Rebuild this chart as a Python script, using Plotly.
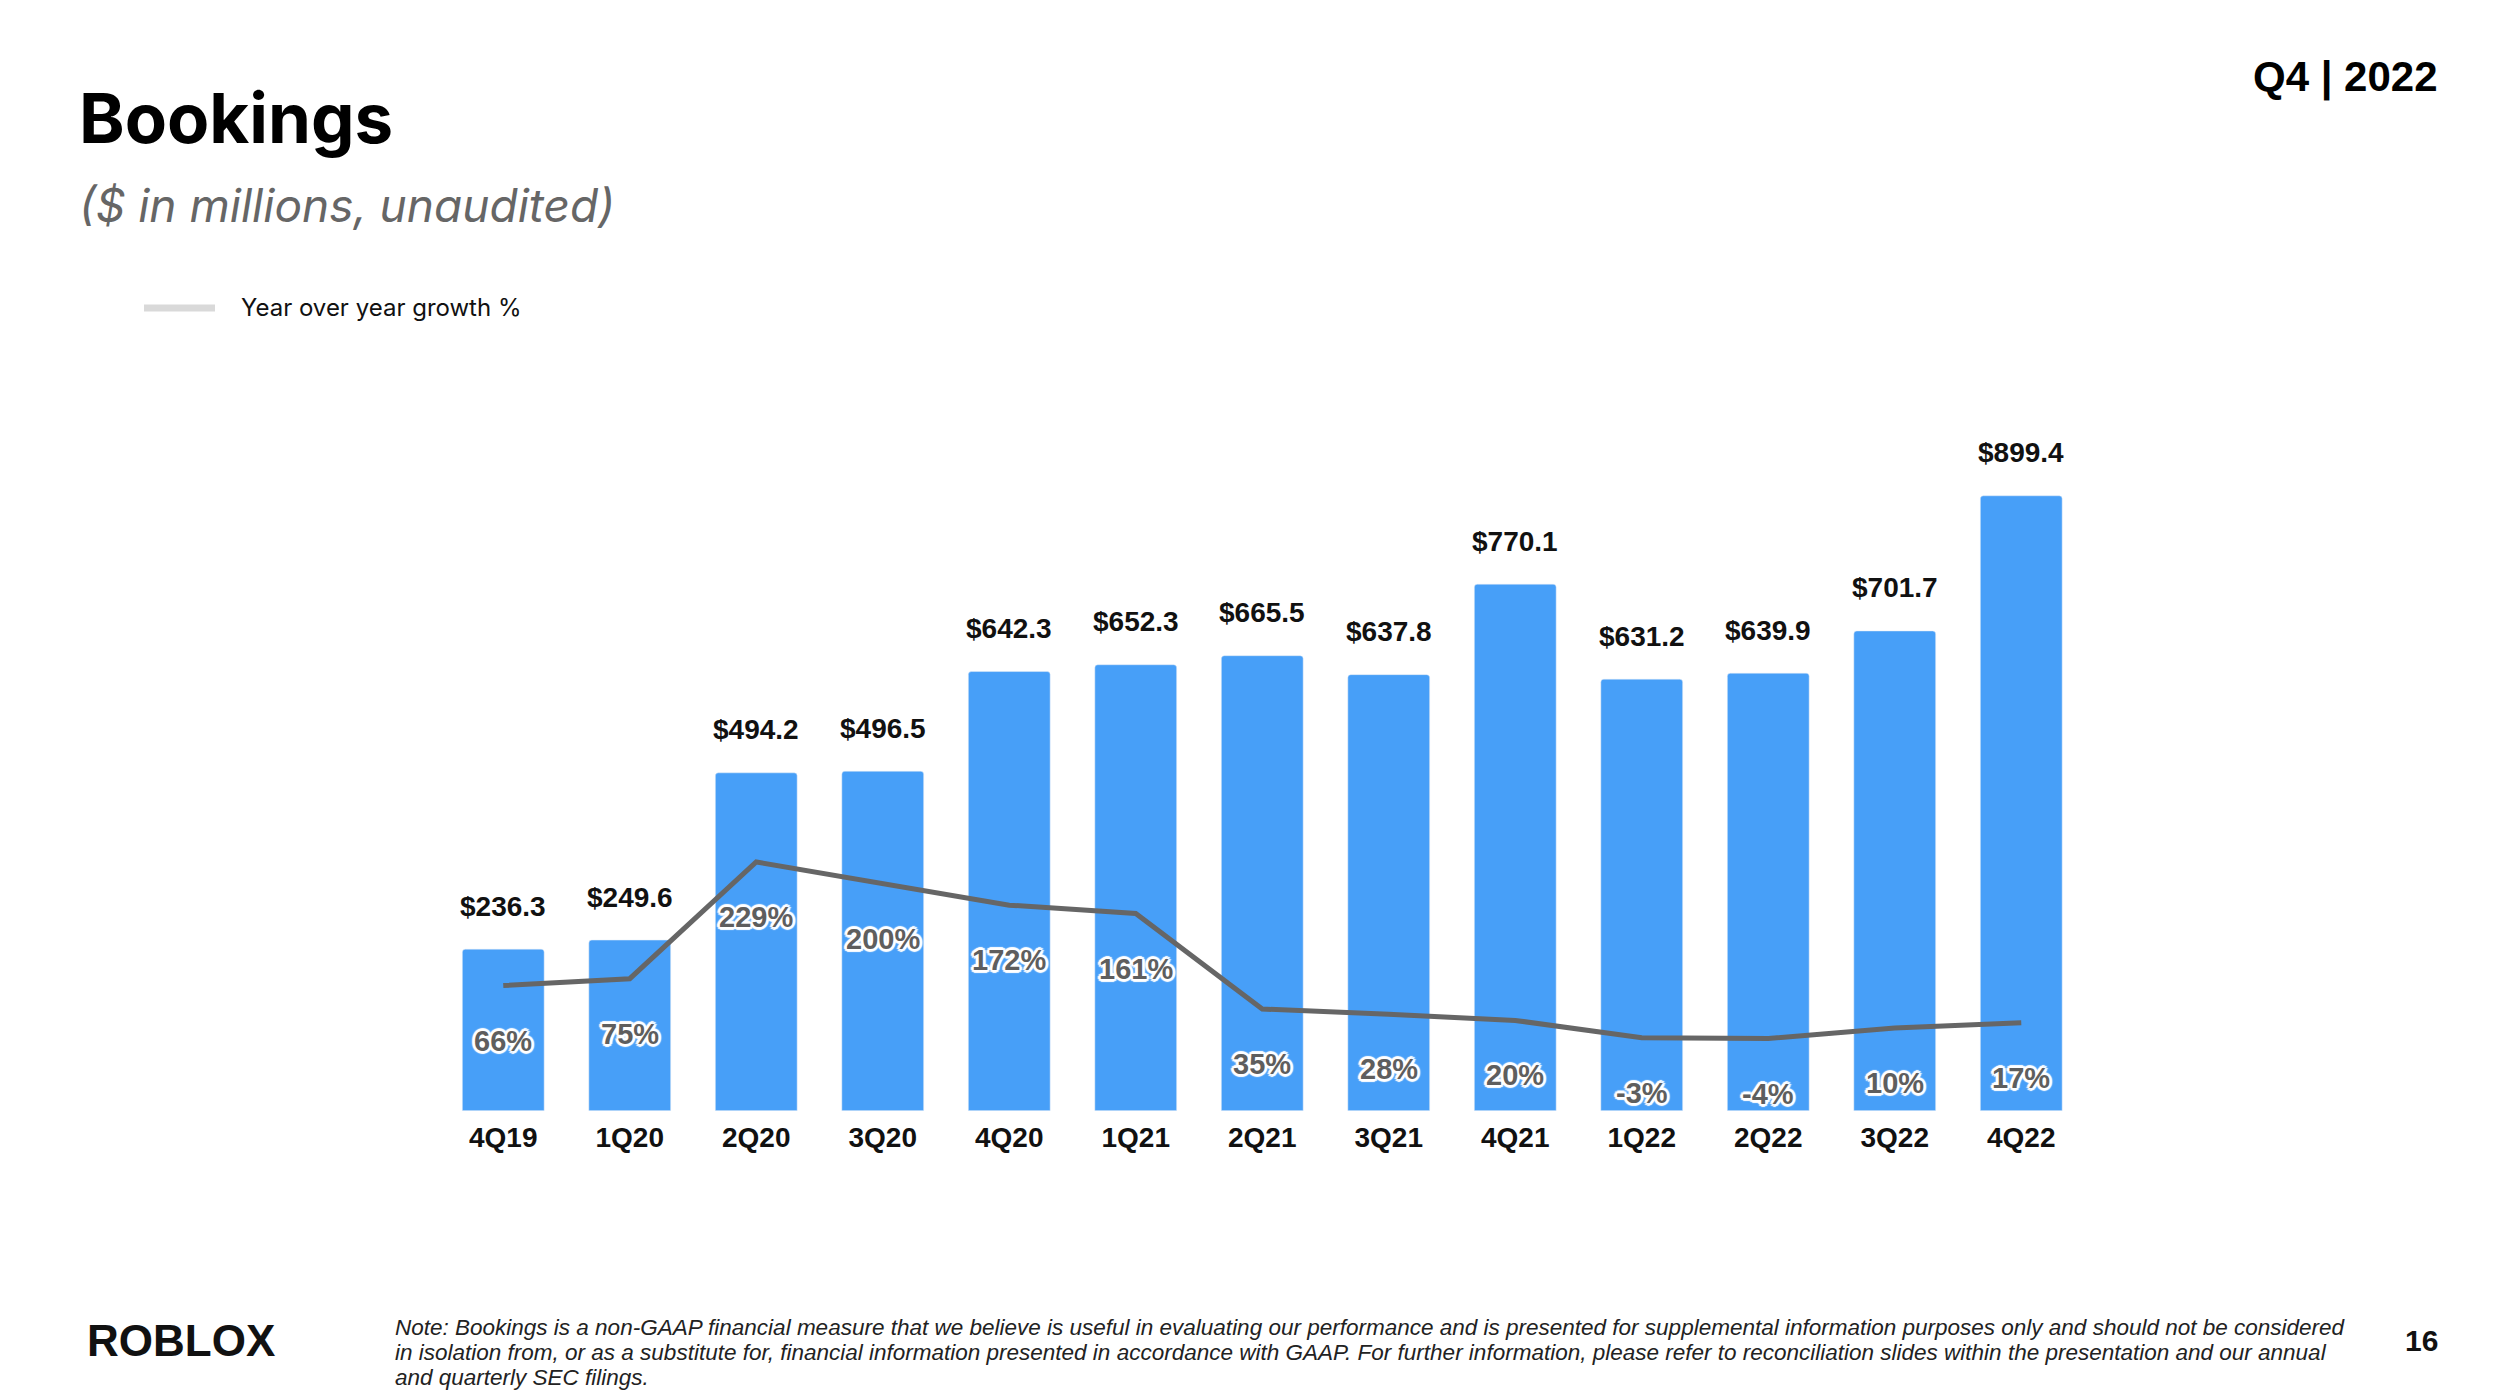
import plotly.graph_objects as go

quarters = ["4Q19", "1Q20", "2Q20", "3Q20", "4Q20", "1Q21", "2Q21",
            "3Q21", "4Q21", "1Q22", "2Q22", "3Q22", "4Q22"]
bookings = [236.3, 249.6, 494.2, 496.5, 642.3, 652.3, 665.5,
            637.8, 770.1, 631.2, 639.9, 701.7, 899.4]
yoy_growth = [66, 75, 229, 200, 172, 161, 35, 28, 20, -3, -4, 10, 17]

note_lines = [
    "Note: Bookings is a non-GAAP financial measure that we believe is useful in evaluating our performance and is presented for supplemental information purposes only and should not be considered",
    "in isolation from, or as a substitute for, financial information presented in accordance with GAAP. For further information, please refer to reconciliation slides within the presentation and our annual",
    "and quarterly SEC filings.",
]

W, H = 2504, 1398
BAR = "#479FF8"
LINE = "#666666"
ARIAL = "Liberation Sans, Arial, sans-serif"
INTER = "Inter, Roboto, sans-serif"

def px(x):
    return x / W

def py(y):
    return 1 - y / H

fig = go.Figure()
fig.add_trace(go.Bar(
    x=quarters, y=bookings, marker=dict(color=BAR, cornerradius=3),
    yaxis="y", showlegend=False, hoverinfo="skip"))
fig.add_trace(go.Scatter(
    x=quarters, y=yoy_growth, mode="lines", yaxis="y2",
    line=dict(color=LINE, width=5), showlegend=False, hoverinfo="skip"))

ann = []
for q, b in zip(quarters, bookings):
    ann.append(dict(x=q, y=b, xref="x", yref="y", text=f"<b>${b:.1f}</b>",
                    showarrow=False, yanchor="middle", yshift=43,
                    font=dict(family=ARIAL, size=28, color="#111111")))
shadow = ("3px 0 1px white, -3px 0 1px white, 0 3px 1px white, 0 -3px 1px white, "
          "2px 2px 1px white, -2px -2px 1px white, 2px -2px 1px white, -2px 2px 1px white")
for q, g in zip(quarters, yoy_growth):
    ann.append(dict(x=q, y=g, xref="x", yref="y2", text=f"<b>{g}%</b>",
                    showarrow=False, yanchor="middle", yshift=-55,
                    font=dict(family=ARIAL, size=29, color="#5E5E5E", shadow=shadow)))

ann += [
    dict(x=px(77), y=py(118), xref="paper", yref="paper", xanchor="left", yanchor="middle",
         text="<b>Bookings</b>", showarrow=False,
         font=dict(family=INTER, size=69, color="#000000")),
    dict(x=px(77), y=py(205), xref="paper", yref="paper", xanchor="left", yanchor="middle",
         text="<i>($ in millions, unaudited)</i>", showarrow=False,
         font=dict(family=INTER, size=46, color="#666666")),
    dict(x=px(2440), y=py(77), xref="paper", yref="paper", xanchor="right", yanchor="middle",
         text="<b>Q4 | 2022</b>", showarrow=False,
         font=dict(family=ARIAL, size=42, color="#000000")),
    dict(x=px(239), y=py(308), xref="paper", yref="paper", xanchor="left", yanchor="middle",
         text="Year over year growth %", showarrow=False,
         font=dict(family=INTER, size=24, color="#111111")),
    dict(x=px(85), y=py(1340), xref="paper", yref="paper", xanchor="left", yanchor="middle",
         text="<b>ROBLOX</b>", showarrow=False,
         font=dict(family=ARIAL, size=44, color="#111111")),
    dict(x=px(2440), y=py(1340), xref="paper", yref="paper", xanchor="right", yanchor="middle",
         text="<b>16</b>", showarrow=False,
         font=dict(family=ARIAL, size=30, color="#111111")),
]
for i, line in enumerate(note_lines):
    ann.append(dict(x=px(393), y=py(1327 + 25 * i), xref="paper", yref="paper",
                    xanchor="left", yanchor="middle", showarrow=False,
                    text=f"<i>{line}</i>",
                    font=dict(family=ARIAL, size=22.5, color="#222222")))

fig.update_layout(
    width=W, height=H, margin=dict(l=0, r=0, t=0, b=0),
    paper_bgcolor="white", plot_bgcolor="white",
    bargap=0.353,
    xaxis=dict(domain=[px(440), px(2084.5)], showgrid=False, showline=False, zeroline=False,
               ticks="", ticklabelstandoff=7,
               tickfont=dict(family=ARIAL, size=28, color="#111111"),
               tickprefix="<b>", ticksuffix="</b>"),
    yaxis=dict(domain=[py(1110.7), py(427)], range=[0, 1000], visible=False),
    yaxis2=dict(overlaying="y", range=[-99.1, 802.7], visible=False),
    annotations=ann,
    shapes=[dict(type="line", xref="paper", yref="paper",
                 x0=px(144), x1=px(215), y0=py(308), y1=py(308),
                 line=dict(color="#D9D9D9", width=7))],
)

fig.write_html("out.html", config={"displayModeBar": False},
               post_script="document.body.style.margin='0';")
